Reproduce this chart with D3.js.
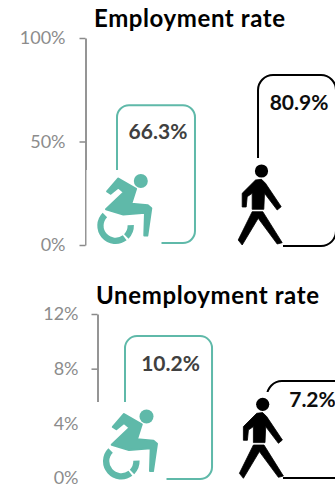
<!DOCTYPE html>
<html>
<head>
<meta charset="utf-8">
<script src="https://cdn.jsdelivr.net/npm/d3@7"></script>
<style>
  html, body { margin: 0; padding: 0; background: #fff; }
  svg { display: block; }
  text { font-family: Lato, "Open Sans", sans-serif; }
</style>
</head>
<body>
<svg id="chart" width="335" height="485"></svg>
<script>
const groups = ["With disability", "Without disability"];
const employmentValues = [66.3, 80.9];
const employmentTicks = [0, 50, 100];
const unemploymentValues = [10.2, 7.2];
const unemploymentTicks = [0, 4, 8, 12];

const TEAL = "#5fb9a9";
const BLACK = "#000000";
const frameColors = [TEAL, BLACK];
const labelColors = ["#404040", "#0d0d0d"];
const cornerRadii = [12, 15];

const svg = d3.select("#chart");

// Pictogram outlines in their own local units; the wheelchair is centred on its wheel,
// the walking figure on its head.
const chairBody = [[-7.2,-36],[4,-49],[21.8,-38.7],[17,-23.8],[33.5,-22.2],[37,-19.3],[33,8],[30,8],[30.7,-14.8],[9,-13],[-8.3,-18.3],[9.6,-35.3],[4,-40],[-3.7,-33.8]];
const walkerTorso = [[-6,9],[0,8.3],[4,12.3],[19.7,35.7],[15.7,39],[3,22.3],[2.3,38.3],[-9.3,38.3],[-9.3,22.3],[-14.3,25.7],[-15.3,36],[-19.3,36],[-19.3,22.3]];
const walkerLegs = [[-9.3,40.7],[1.3,40.7],[20.7,71.7],[15.7,73],[-3.3,47.3],[-19.3,74],[-23.3,69]];
const line = d3.line().curve(d3.curveLinearClosed);

function drawChair(g) {
  const arc = d3.arc().innerRadius(12).outerRadius(18.3);
  const deg = Math.PI / 180;
  const wheel = g.append("g").attr("transform", "translate(1.3,-1.8)");
  wheel.append("path").attr("fill", TEAL)
    .attr("d", arc({ startAngle: 143 * deg, endAngle: 315 * deg }));
  wheel.append("path").attr("fill", TEAL)
    .attr("d", arc({ startAngle: 88 * deg, endAngle: 135 * deg }));
  g.append("path").attr("d", line(chairBody))
    .attr("fill", TEAL).attr("stroke", TEAL).attr("stroke-width", 2).attr("stroke-linejoin", "round");
  g.append("circle").attr("cx", 26.5).attr("cy", -46.5).attr("r", 7).attr("fill", TEAL);
}

function drawWalker(g) {
  g.append("circle").attr("r", 6.6).attr("fill", BLACK);
  [walkerTorso, walkerLegs].forEach(shape =>
    g.append("path").attr("d", line(shape))
      .attr("fill", BLACK).attr("stroke", BLACK).attr("stroke-width", 0.8).attr("stroke-linejoin", "round"));
}

function drawPanel(p) {
  const y = d3.scaleLinear().domain(p.domain).range([p.yBottom, p.yTop]);
  const x = d3.scaleBand().domain(groups).range(p.xRange).paddingInner(p.inner);
  const root = svg.append("g");

  // Value axis
  const axis = root.append("g")
    .attr("transform", `translate(${p.axisX},0)`)
    .call(d3.axisLeft(y).tickValues(p.ticks).tickSize(6).tickSizeOuter(0).tickPadding(p.tickPad).tickFormat(d => d + "%"));
  axis.select(".domain").attr("stroke", "#8a8a8a").attr("stroke-width", 1.8);
  axis.selectAll(".tick line").attr("stroke", "#8a8a8a").attr("stroke-width", 1.5);
  axis.selectAll(".tick text").attr("fill", "#8c8c8c").style("font-size", "18px");

  // Rounded frames rising to each value
  const values = p.values;
  root.append("g").selectAll("rect").data(groups).join("rect")
    .attr("x", d => x(d))
    .attr("y", (d, i) => y(values[i]) + p.lift[i])
    .attr("width", x.bandwidth())
    .attr("height", (d, i) => y(0) + p.foot[i] - y(values[i]) - p.lift[i])
    .attr("rx", (d, i) => cornerRadii[i])
    .attr("fill", "none")
    .attr("stroke", (d, i) => frameColors[i])
    .attr("stroke-width", 2);

  // White plates behind the pictograms interrupt the frames and the axis
  root.append("g").selectAll("rect").data(p.plates).join("rect")
    .attr("x", d => d.x).attr("y", d => d.y)
    .attr("width", d => d.w).attr("height", d => d.h)
    .attr("fill", "#fff");

  drawChair(root.append("g").attr("transform", `translate(${p.chair})`));
  drawWalker(root.append("g").attr("transform", `translate(${p.walker})`));

  // Value labels
  root.append("g").selectAll("text").data(groups).join("text")
    .attr("x", d => x(d) + x.bandwidth() / 2 + 2)
    .attr("y", (d, i) => y(values[i]) + p.labelDrop[i])
    .attr("text-anchor", "middle")
    .attr("fill", (d, i) => labelColors[i])
    .style("font-size", "21px").style("font-weight", 700)
    .text((d, i) => d3.format(".1f")(values[i]) + "%");

  // Title
  root.append("text")
    .attr("x", p.titleX).attr("y", p.titleY)
    .attr("fill", "#000")
    .attr("textLength", p.titleWidth).attr("lengthAdjust", "spacing")
    .style("font-size", "24px").style("font-weight", 700)
    .text(p.title);
}

drawPanel({
  title: "Employment rate", titleX: 94, titleY: 27, titleWidth: 191,
  values: employmentValues, ticks: employmentTicks, domain: [0, 100],
  yBottom: 245, yTop: 38, axisX: 85.5, tickPad: 14,
  xRange: [117, 336], inner: 0.447,
  lift: [-2.5, -2.5], foot: [-2, 1], labelDrop: [31.5, 32],
  plates: [{ x: 86.5, y: 170, w: 75, h: 82 }, { x: 232, y: 158, w: 51, h: 94 }],
  chair: [114.3, 227.5], walker: [261.5, 171]
});

drawPanel({
  title: "Unemployment rate", titleX: 96, titleY: 304, titleWidth: 223,
  values: unemploymentValues, ticks: unemploymentTicks, domain: [0, 12],
  yBottom: 478, yTop: 314, axisX: 97.5, tickPad: 13,
  xRange: [125, 354], inner: 0.387,
  lift: [-2.5, 1.5], foot: [1, 0], labelDrop: [32.5, 27.5],
  plates: [{ x: 91, y: 402, w: 75.5, h: 83 }, { x: 232, y: 392, w: 51, h: 93 }],
  chair: [120, 463], walker: [262.7, 404.3]
});
</script>
</body>
</html>
